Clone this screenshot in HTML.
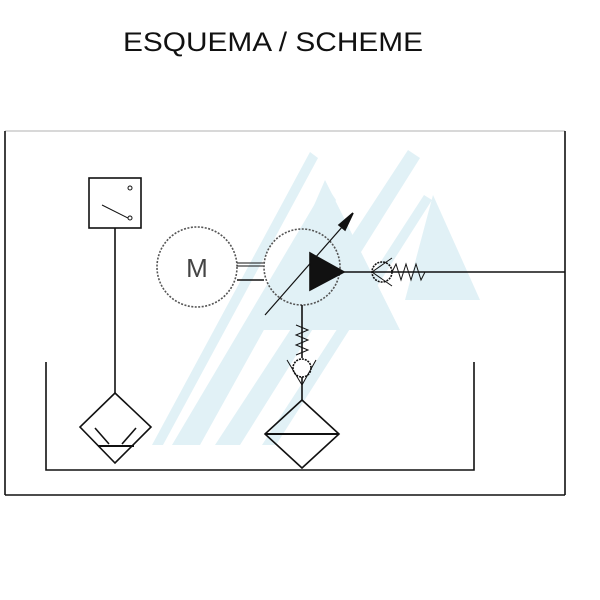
<!DOCTYPE html>
<html><head><meta charset="utf-8"><style>
html,body{margin:0;padding:0;background:#fff;width:600px;height:600px;overflow:hidden}
</style></head><body>
<svg width="600" height="600" xmlns="http://www.w3.org/2000/svg">
<text x="123" y="51" font-family="Liberation Sans, sans-serif" font-size="27" textLength="300" lengthAdjust="spacingAndGlyphs" fill="#111">ESQUEMA / SCHEME</text>
<!-- watermark -->
<g fill="#e1f1f6">
<polygon points="152,445 163,445 318,158 310,152"/>
<polygon points="172,445 200,445 336,200 326,185"/>
<polygon points="215,445 240,445 420,158 408,150"/>
<polygon points="262,445 276,445 432,200 424,195"/>
<polygon points="325,180 400,330 300,330 260,330"/>
<polygon points="433,195 480,300 405,300"/>
</g>
<g stroke="#111" fill="none" stroke-width="1.6">
<line x1="5" y1="131" x2="565" y2="131" stroke="#ccc"/>
<line x1="5" y1="131" x2="5" y2="495"/>
<line x1="565" y1="131" x2="565" y2="495"/>
<line x1="5" y1="495" x2="565" y2="495"/>
<polyline points="46,362 46,470 474,470 474,362"/>
<rect x="89" y="178" width="52" height="50"/>
<line x1="102" y1="205" x2="128" y2="218" stroke-width="1"/>
<circle cx="130" cy="188" r="2" stroke-width="1"/>
<circle cx="130" cy="218" r="2" stroke-width="1"/>
<line x1="115" y1="228" x2="115" y2="393"/>
<polygon points="115,393 151,427 115,463 80,427"/>
<line x1="95" y1="428" x2="109" y2="444"/>
<line x1="136" y1="428" x2="122" y2="444"/>
<line x1="98" y1="446" x2="134" y2="446" stroke-width="2"/>
<circle cx="197" cy="267" r="40" stroke-dasharray="2,1.5" stroke="#555"/>
<text x="197" y="277" font-family="Liberation Sans, sans-serif" font-size="26" text-anchor="middle" fill="#444" stroke="none">M</text>
<line x1="237" y1="263" x2="264" y2="263" stroke-width="1"/>
<line x1="237" y1="266" x2="264" y2="266" stroke-width="1"/>
<line x1="237" y1="280" x2="264" y2="280"/>
<circle cx="302" cy="267" r="38" stroke-dasharray="2,1.5" stroke="#555"/>
<polygon points="310,253 344,272 310,290" fill="#111"/>
<line x1="265" y1="315" x2="350" y2="218" stroke-width="1.2"/>
<polygon points="353,213 339,225 345,230" fill="#111"/>
<line x1="344" y1="272" x2="565" y2="272"/>
<circle cx="382" cy="272" r="10" stroke-dasharray="2,1"/>
<polyline points="392,258 372,272 392,286" stroke-width="1"/>
<polyline points="392,272 396,264 401,280 406,264 411,280 416,264 421,280 425,272" stroke-width="1"/>
<line x1="302" y1="305" x2="302" y2="358"/>
<polyline points="296,325 308,330 296,335 308,340 296,345 308,350 296,355" stroke-width="1"/>
<circle cx="302" cy="368" r="9" stroke-dasharray="2,1"/>
<polyline points="287,360 302,385 316,360" stroke-width="1"/>
<line x1="302" y1="377" x2="302" y2="400"/>
<polygon points="302,400 339,434 302,468 265,434"/>
<line x1="265" y1="434" x2="339" y2="434" stroke-width="2"/>
</g>
</svg>
</body></html>
